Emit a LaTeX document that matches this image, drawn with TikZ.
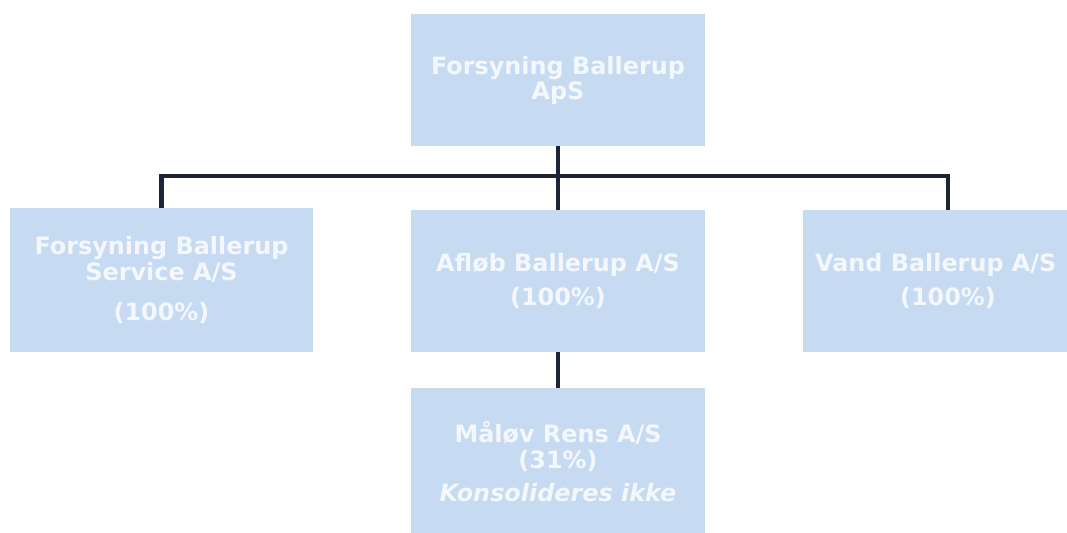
\documentclass[tikz,border=0pt]{standalone}
\usepackage{fontspec}
\setmainfont{DejaVu Sans}
\definecolor{boxblue}{HTML}{C6DAF2}
\definecolor{linenavy}{HTML}{1C2535}
\definecolor{textwhite}{HTML}{F4F7FC}
\tikzset{
  company/.style={fill=boxblue, draw=none, align=center, text=textwhite,
    font=\bfseries\fontsize{13.6}{14.3}\selectfont,
    minimum width=5.9cm, minimum height=2.84cm, inner sep=0pt},
  link/.style={draw=linenavy, line width=2.8pt}
}
\begin{document}
\begin{tikzpicture}[x=0.02cm,y=-0.02cm]
            \clip (0,0) rectangle (1067,533);
            \fill[white] (0,0) rectangle (1067,533);
            % parent company
            \node[company, minimum height=2.64cm] (parent) at (558,80) {Forsyning Ballerup\\ApS};
            % subsidiaries
            \node[company, minimum width=6.06cm, minimum height=2.88cm] (service) at (161.5,280) {Forsyning Ballerup\\Service A/S\\[8.5pt](100\%)};
            \node[company] (afloeb) at (558,281) {Afløb Ballerup A/S\\[5pt](100\%)};
            \node[company, minimum width=5.8cm] (vand) at (948,281) {\hspace*{-14pt}Vand Ballerup A/S\\[5pt](100\%)};
            \node[company, minimum height=2.96cm] (maaloev) at (558,462) {Måløv Rens A/S\\(31\%)\\[5pt]\textit{Konsolideres ikke}};
            % connectors
            \coordinate (bar) at (558,176);
            \draw[link] (service.north) |- (bar) -| (vand.north);
            \draw[link] (parent.south) -- (afloeb.north);
            \draw[link] (afloeb.south) -- (maaloev.north);
\end{tikzpicture}
\end{document}
